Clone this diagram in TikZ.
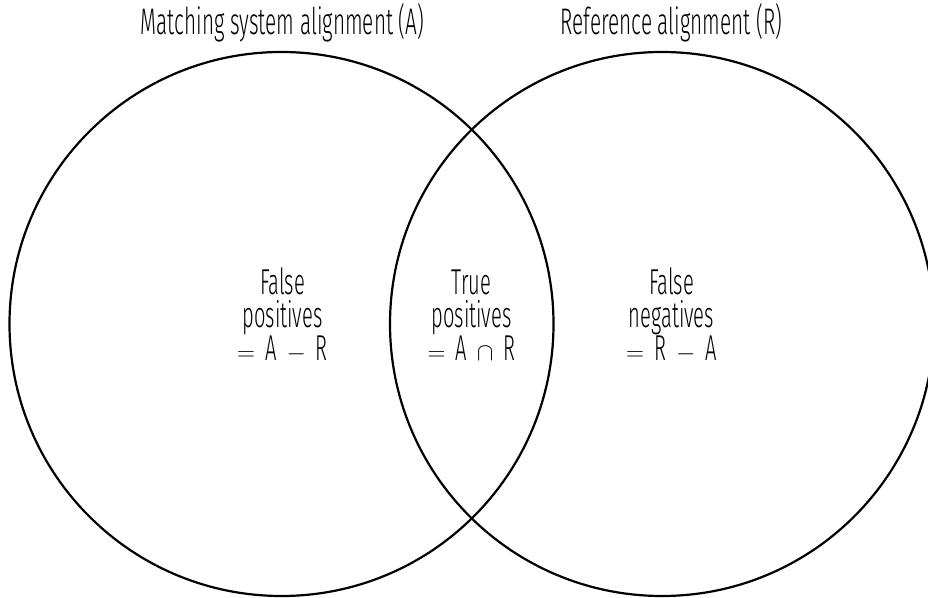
\documentclass[tikz,border=0pt]{standalone}
\usepackage{fontspec}
\setmainfont[FakeStretch=0.56]{Fira Sans Light}
\newcommand{\gp}{\hspace{10pt}}
\begin{document}
\begin{tikzpicture}[x=1pt,y=1pt,
  circ/.style={draw=black,line width=2.2pt},
  lbl/.style={font=\fontsize{36}{33}\selectfont,align=center,inner sep=0pt},
  ttl/.style={font=\fontsize{37}{32}\selectfont,inner sep=0pt,anchor=base}]
\useasboundingbox (0,0) rectangle (928,597);
\clip (0,0) rectangle (928,597);
\fill[white] (0,0) rectangle (928,597);
\node[circ,circle,minimum size=544pt,inner sep=0pt] (A) at (281.5,273) {};
\node[circ,circle,minimum size=544pt,inner sep=0pt] (R) at (662,273) {};
\node[ttl] (tA) at (282.5,562) {Matching system alignment (A)};
\node[ttl] (tR) at (671.5,562) {Reference alignment (R)};
\node[lbl] (fp) at (282.5,282) {False\\positives\\$=$\gp A\gp$-$\gp R};
\node[lbl] (tp) at (471.5,282) {True\\positives\\$=$\gp A\gp$\cap$\gp R};
\node[lbl] (fn) at (671.5,282) {False\\negatives\\$=$\gp R\gp$-$\gp A};
\end{tikzpicture}
\end{document}
